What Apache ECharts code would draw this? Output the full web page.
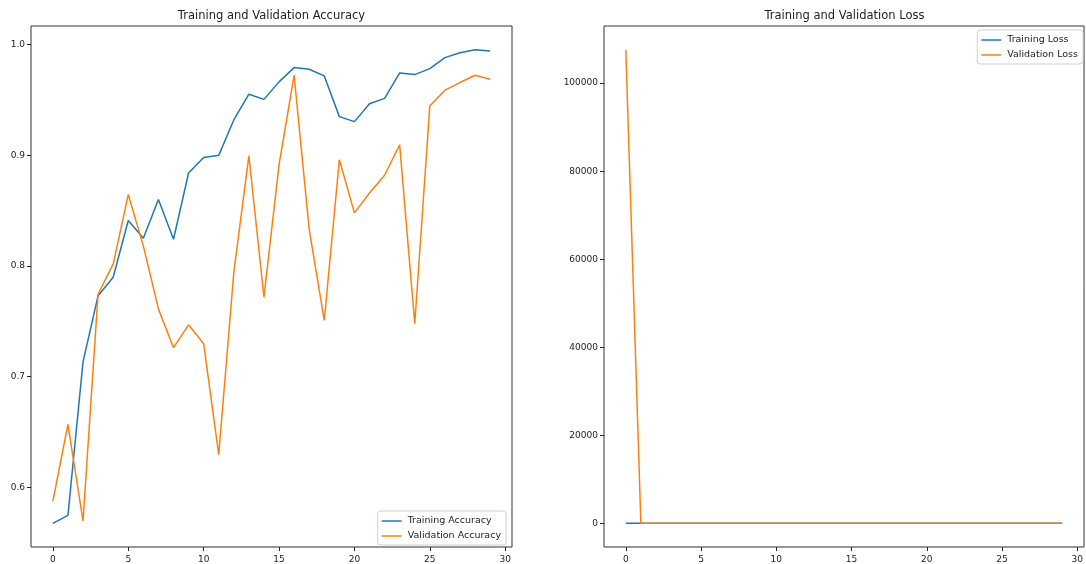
<!DOCTYPE html>
<html>
<head>
<meta charset="utf-8">
<script src="https://cdn.jsdelivr.net/npm/echarts@6/dist/echarts.min.js"></script>
<style>
  html, body { margin: 0; padding: 0; background: #fff; }
  #chart { width: 1086px; height: 564px; }
</style>
</head>
<body>
<div id="chart"></div>
<script>
// Epoch indices 0..29
const epochs = Array.from({ length: 30 }, (_, i) => i);

const trainAcc = [0.5675, 0.5747, 0.7134, 0.7732, 0.7898, 0.8412, 0.8251, 0.8601, 0.8242, 0.8841,
                  0.8980, 0.9000, 0.9320, 0.9553, 0.9506, 0.9664, 0.9793, 0.9778, 0.9718, 0.9350,
                  0.9305, 0.9466, 0.9515, 0.9745, 0.9730, 0.9784, 0.9883, 0.9928, 0.9955, 0.9943];
const valAcc   = [0.5876, 0.6570, 0.5696, 0.7747, 0.8017, 0.8646, 0.8182, 0.7613, 0.7262, 0.7469,
                  0.7298, 0.6295, 0.7942, 0.8996, 0.7718, 0.8916, 0.9724, 0.8331, 0.7508, 0.8960,
                  0.8480, 0.8660, 0.8820, 0.9095, 0.7478, 0.9446, 0.9589, 0.9658, 0.9724, 0.9688];

const trainLoss = [1.42, 1.21, 0.86, 0.63, 0.55, 0.44, 0.47, 0.39, 0.46, 0.31,
                   0.28, 0.27, 0.20, 0.14, 0.15, 0.11, 0.07, 0.07, 0.09, 0.19,
                   0.20, 0.16, 0.15, 0.08, 0.08, 0.07, 0.04, 0.03, 0.02, 0.02];
const valLoss   = [107600, 1.05, 2.31, 0.68, 0.60, 0.41, 0.55, 0.83, 0.97, 0.88,
                   0.95, 1.62, 0.74, 0.31, 0.79, 0.35, 0.09, 0.58, 0.98, 0.33,
                   0.52, 0.44, 0.39, 0.29, 1.10, 0.18, 0.14, 0.12, 0.10, 0.11];

const xTicks = [0, 5, 10, 15, 20, 25, 30];
const accTicks = [0.6, 0.7, 0.8, 0.9, 1.0];
const lossTicks = [0, 20000, 40000, 60000, 80000, 100000];

const FONT = 'DejaVu Sans';
const BLUE = '#1f77b4';
const ORANGE = '#ff7f0e';

// pad an axis range by 5% of the data span on each side
function padded(arrs) {
  const all = [].concat(...arrs);
  const lo = Math.min(...all), hi = Math.max(...all);
  const m = (hi - lo) * 0.05;
  return [lo - m, hi + m];
}
const xr = padded([epochs]);
const accR = padded([trainAcc, valAcc]);
const lossR = padded([trainLoss, valLoss]);

function xAxisOf(gridIndex) {
  return {
    type: 'value', gridIndex, min: xr[0], max: xr[1],
    axisLine: { show: false, onZero: false },
    splitLine: { show: false },
    axisTick: { show: true, customValues: xTicks, length: 4, inside: false,
                lineStyle: { color: '#222', width: 1 } },
    axisLabel: { customValues: xTicks, margin: 8, color: '#222',
                 fontFamily: FONT, fontSize: 9 }
  };
}
function yAxisOf(gridIndex, range, ticks, fmt) {
  return {
    type: 'value', gridIndex, min: range[0], max: range[1],
    axisLine: { show: false, onZero: false },
    splitLine: { show: false },
    axisTick: { show: true, customValues: ticks, length: 4, inside: false,
                lineStyle: { color: '#222', width: 1 } },
    axisLabel: { customValues: ticks, margin: 6, color: '#222',
                 fontFamily: FONT, fontSize: 9, formatter: fmt }
  };
}
function lineSeries(name, data, color, axisIdx) {
  return {
    name, type: 'line', xAxisIndex: axisIdx, yAxisIndex: axisIdx,
    data: epochs.map((e, i) => [e, data[i]]),
    symbol: 'none', lineStyle: { color, width: 1.5 }, itemStyle: { color },
    animation: false
  };
}
const legendBase = {
  orient: 'vertical', icon: 'rect', itemWidth: 20, itemHeight: 1.5, itemGap: 5,
  padding: [5, 5, 4, 4], borderColor: '#d0d0d0', borderWidth: 1, borderRadius: 3,
  backgroundColor: 'rgba(255,255,255,0.8)',
  textStyle: { fontFamily: FONT, fontSize: 9.5, color: '#222', padding: [0, 0, 0, 1] }
};

const chart = echarts.init(document.getElementById('chart'), null, { renderer: 'canvas' });
chart.setOption({
  animation: false,
  backgroundColor: '#fff',
  title: [
    { text: 'Training and Validation Accuracy', left: 271.5, top: 10, textAlign: 'center', padding: 0,
      textStyle: { fontFamily: FONT, fontSize: 11.5, fontWeight: 'normal', color: '#222' } },
    { text: 'Training and Validation Loss', left: 844.5, top: 10, textAlign: 'center', padding: 0,
      textStyle: { fontFamily: FONT, fontSize: 11.5, fontWeight: 'normal', color: '#222' } }
  ],
  grid: [
    { left: 31, top: 26, width: 481, height: 524, show: true, borderColor: '#333', borderWidth: 1, backgroundColor: 'transparent' },
    { left: 604, top: 26, width: 481, height: 524, show: true, borderColor: '#333', borderWidth: 1, backgroundColor: 'transparent' }
  ],
  xAxis: [xAxisOf(0), xAxisOf(1)],
  yAxis: [
    yAxisOf(0, accR, accTicks, v => v.toFixed(1)),
    yAxisOf(1, lossR, lossTicks, v => String(Math.round(v)))
  ],
  legend: [
    Object.assign({}, legendBase, { data: ['Training Accuracy', 'Validation Accuracy'], right: 580, bottom: 19 }),
    Object.assign({}, legendBase, { data: ['Training Loss', 'Validation Loss'], right: 3, top: 30 })
  ],
  series: [
    lineSeries('Training Accuracy', trainAcc, BLUE, 0),
    lineSeries('Validation Accuracy', valAcc, ORANGE, 0),
    lineSeries('Training Loss', trainLoss, BLUE, 1),
    lineSeries('Validation Loss', valLoss, ORANGE, 1)
  ]
});
</script>
</body>
</html>
